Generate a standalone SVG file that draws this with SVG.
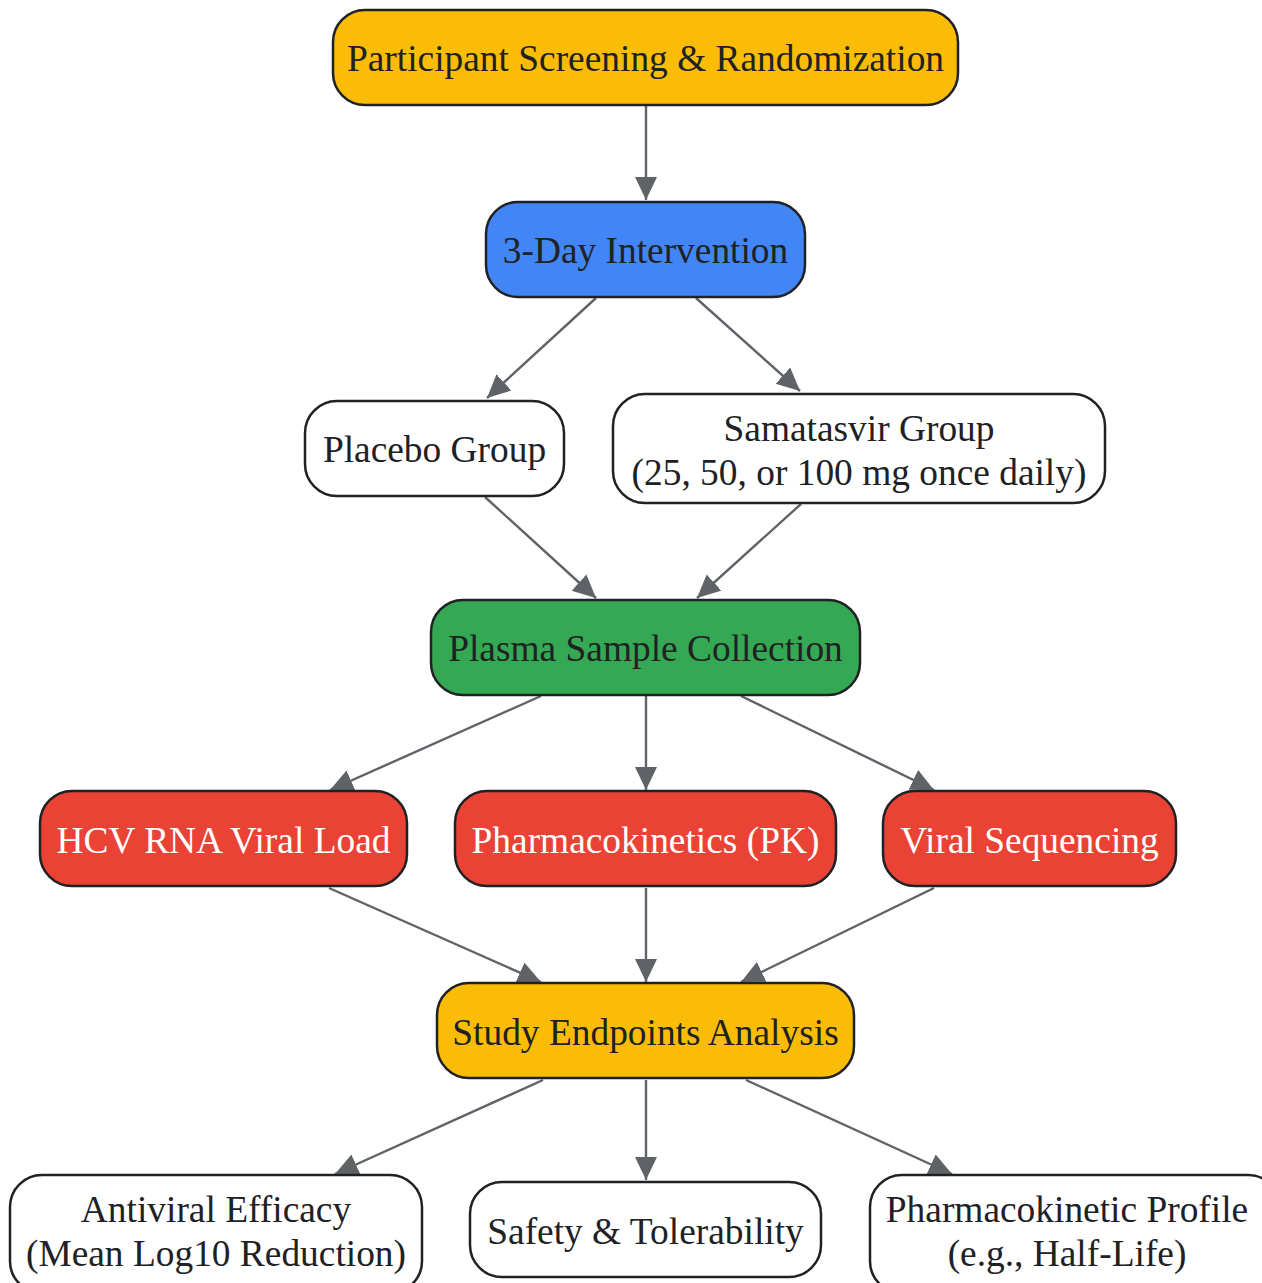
<svg xmlns="http://www.w3.org/2000/svg" width="1262" height="1283" viewBox="0 0 1262 1283">
<style>
.n rect{stroke:#202124;stroke-width:2.5}
.n text{font-family:"Liberation Serif","Times New Roman",serif;font-size:37.4px;text-anchor:middle;fill:#202124}
.n text.w{fill:#ffffff}
.y{fill:#FBBC05}.b{fill:#4285F4}.g{fill:#34A853}.r{fill:#EA4335}.wh{fill:#ffffff}
#edges line{stroke:#5F6368;stroke-width:2.4;marker-end:url(#ah)}
</style>
<defs>
<marker id="ah" markerUnits="userSpaceOnUse" markerWidth="26" markerHeight="24" refX="23" refY="11" orient="auto" viewBox="0 0 26 24">
<path d="M0,0 L23,11 L0,22 Z" fill="#5F6368"/>
</marker>
</defs>
<rect width="1262" height="1283" fill="#ffffff"/>
<g id="edges">
<line x1="646" y1="105" x2="646" y2="200"/>
<line x1="596" y1="298" x2="487" y2="398"/>
<line x1="696" y1="298" x2="800" y2="391"/>
<line x1="485" y1="497" x2="596" y2="598"/>
<line x1="801" y1="504" x2="697" y2="598"/>
<line x1="541" y1="696" x2="330" y2="790"/>
<line x1="646" y1="696" x2="646" y2="790"/>
<line x1="741" y1="696" x2="934" y2="790"/>
<line x1="329" y1="888" x2="541" y2="982"/>
<line x1="646" y1="888" x2="646" y2="982"/>
<line x1="934" y1="888" x2="741" y2="982"/>
<line x1="543" y1="1080" x2="335" y2="1174"/>
<line x1="646" y1="1080" x2="646" y2="1180"/>
<line x1="746" y1="1080" x2="952" y2="1174"/>
</g>
<g id="screening" class="n"><rect class="y" x="333" y="10" width="625" height="95" rx="32"/><text x="645.5" y="71">Participant Screening &amp; Randomization</text></g>
<g id="intervention" class="n"><rect class="b" x="486" y="202" width="319" height="95" rx="32"/><text x="645.5" y="263">3-Day Intervention</text></g>
<g id="placebo" class="n"><rect class="wh" x="305" y="401" width="259" height="95" rx="32"/><text x="434.5" y="462">Placebo Group</text></g>
<g id="samatasvir" class="n"><rect class="wh" x="613" y="394" width="492" height="109" rx="32"/><text x="859" y="441">Samatasvir Group</text><text x="859" y="485">(25, 50, or 100 mg once daily)</text></g>
<g id="plasma" class="n"><rect class="g" x="431" y="600" width="429" height="95" rx="32"/><text x="645.5" y="661">Plasma Sample Collection</text></g>
<g id="hcv" class="n"><rect class="r" x="40" y="791" width="367" height="95" rx="32"/><text class="w" x="223.5" y="853">HCV RNA Viral Load</text></g>
<g id="pk" class="n"><rect class="r" x="455" y="791" width="381" height="95" rx="32"/><text class="w" x="645.5" y="853">Pharmacokinetics (PK)</text></g>
<g id="seq" class="n"><rect class="r" x="883" y="791" width="293" height="95" rx="32"/><text class="w" x="1029.5" y="853">Viral Sequencing</text></g>
<g id="endpoints" class="n"><rect class="y" x="437" y="983" width="417" height="95" rx="32"/><text x="645.5" y="1045">Study Endpoints Analysis</text></g>
<g id="efficacy" class="n"><rect class="wh" x="10" y="1175" width="412" height="118" rx="32"/><text x="216" y="1222">Antiviral Efficacy</text><text x="216" y="1266">(Mean Log10 Reduction)</text></g>
<g id="safety" class="n"><rect class="wh" x="470" y="1182" width="351" height="95" rx="32"/><text x="645.5" y="1244">Safety &amp; Tolerability</text></g>
<g id="pkprofile" class="n"><rect class="wh" x="870" y="1175" width="410" height="118" rx="32"/><text x="1067" y="1222">Pharmacokinetic Profile</text><text x="1067" y="1266">(e.g., Half-Life)</text></g>
</svg>
